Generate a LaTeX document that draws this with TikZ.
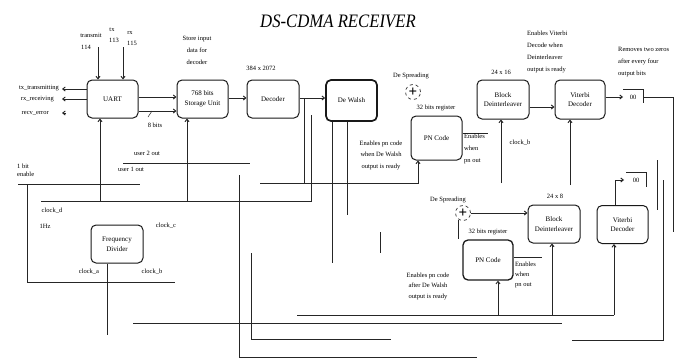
\documentclass[tikz,border=0pt]{standalone}
\usepackage{graphicx}
\usepackage{fontspec}
\setmainfont{Liberation Serif}
\usetikzlibrary{arrows.meta}
\begin{document}
\begin{tikzpicture}[x=1pt,y=-1pt,
  box/.style={draw=black!90,line width=1pt,rounded corners=5pt,minimum width=51pt,minimum height=38pt,align=center,font=\fontsize{7}{9.5}\selectfont,inner sep=1pt},
  lbl/.style={font=\fontsize{6.5}{7.5}\selectfont,inner sep=0pt,align=center},
  lbll/.style={font=\fontsize{6.5}{12}\selectfont,inner sep=0pt,align=left,anchor=north west},
  wire/.style={draw=black!85,line width=0.95pt},
  arr/.style={wire,-{Straight Barb[length=2.5pt,width=4pt]}},
  sum/.style={circle,draw=black!80,dashed,line width=0.7pt,minimum size=15pt,inner sep=0pt,font=\bfseries\fontsize{15}{15}\selectfont}
]
\useasboundingbox (0,0) rectangle (693,359);
\fill[white] (0,0) rectangle (693,359);

% title
\node[font=\fontsize{19}{20}\selectfont\itshape] (title) at (338,21) {\scalebox{0.88}[1]{DS-CDMA RECEIVER}};

% blocks
\node[box] (uart) at (112.5,99) {UART};
\node[box] (store) at (202.5,99) {768 bits\\Storage Unit};
\node[box,minimum width=52pt] (dec) at (273,99) {Decoder};
\node[box,line width=1.7pt,minimum height=41pt] (walsh) at (351.5,100.5) {De Walsh};
\node[box,minimum height=44pt] (pn1) at (436.5,138) {PN Code};
\node[box,minimum width=52pt,minimum height=39pt] (bd1) at (503,99.5) {Block\\Deinterleaver};
\node[box,minimum width=50pt,minimum height=39pt] (vit1) at (580,99.5) {Viterbi\\Decoder};
\node[box,minimum width=52pt] (freq) at (117,244) {Frequency\\Divider};
\node[box,minimum width=50pt,minimum height=40pt,line width=1.3pt] (pn2) at (488,260) {PN Code};
\node[box,minimum width=52pt] (bd2) at (554,224) {Block\\Deinterleaver};
\node[box] (vit2) at (622.5,224.5) {Viterbi\\Decoder};
\node[sum] (add1) at (413,92) {+};
\node[sum] (add2) at (463,213) {+};

% UART side signals
\coordinate (c1) at (62,89); \draw[arr] (uart.west|-c1) -- (c1);
\coordinate (c2) at (62,99); \draw[arr] (uart.west|-c2) -- (c2);
\coordinate (c3a) at (66,113); \coordinate (c3) at (62,113); \draw[arr] (c3a) -- (c3);
\node[lbl,anchor=east] (l1) at (59,88) {tx\_transmitting};
\node[lbl,anchor=east] (l2) at (54,99) {rx\_receiving};
\node[lbl,anchor=east] (l3) at (49,113) {recv\_error};

\coordinate (t1) at (98,47); \draw[arr] (t1) -- (t1|-uart.north);
\coordinate (t2) at (123,47); \draw[arr] (t2) -- (t2|-uart.north);
\node[lbl] (l4) at (91,35) {transmit};
\node[lbl] (l5) at (86,47) {114};
\node[lbl] (l6) at (112,30) {tx};
\node[lbl] (l7) at (114,40) {113};
\node[lbl] (l8) at (130,33) {rx};
\node[lbl] (l9) at (132,43) {115};

% data path
\coordinate (u1) at (0,97); \draw[arr] (uart.east|-u1) -- (store.west|-u1);
\coordinate (u2) at (0,111); \draw[arr] (uart.east|-u2) -- (store.west|-u2);
\coordinate (sl1) at (148,117); \coordinate (sl2) at (152,111); \draw[wire,line width=0.5pt] (sl1) -- (sl2);
\node[lbl] (l10) at (155,125) {8 bits};
\node[lbl,font=\fontsize{6.5}{12}\selectfont] (l11) at (197,50) {Store input\\data for\\decoder};

\coordinate (s1) at (0,98);
\draw[arr] (store.east|-s1) -- (dec.west|-s1);
\draw[arr] (dec.east|-s1) -- (walsh.west|-s1);
\node[lbl] (l12) at (261,68) {384 x 2072};

\coordinate (j1) at (304,98); \coordinate (j2) at (304,183); \draw[wire] (j1) -- (j2);
\coordinate (h1) at (260,183); \coordinate (p1b) at (418,183);
\draw[arr] (h1) -- (p1b) -- (p1b|-pn1.south);
\node[lbl,font=\fontsize{6.5}{11.5}\selectfont] (l13) at (381,155) {Enables pn code\\when De Walsh\\output is ready};

% clock bus
\coordinate (k1) at (311,115); \coordinate (k2) at (311,201); \coordinate (k3) at (41,201);
\draw[wire] (k1) -- (k2) -- (k3);
\coordinate (ku) at (100,201); \draw[arr] (ku) -- (ku|-uart.south);
\coordinate (ks) at (187,201); \draw[arr] (ks) -- (ks|-store.south);

% user outputs
\coordinate (uo1) at (123,163); \coordinate (uo2) at (250,163); \draw[wire] (uo1) -- (uo2);
\node[lbl] (l14) at (147,153) {user 2 out};
\node[lbl] (l15) at (131,169) {user 1 out};

\coordinate (e1) at (18,184); \coordinate (e2) at (140,184); \draw[wire] (e1) -- (e2);
\coordinate (e3) at (27,184); \coordinate (e4) at (27,282); \coordinate (e5) at (175,282);
\draw[wire] (e3) -- (e4) -- (e5);
\node[lbl,anchor=west] (l16) at (17,166) {1 bit};
\node[lbl,anchor=west] (l17) at (17,174) {enable};
\node[lbl] (l18) at (52,211) {clock\_d};
\node[lbl] (l19) at (45,226) {1Hz};
\node[lbl] (l20) at (166,226) {clock\_c};
\node[lbl] (l21) at (89,272) {clock\_a};
\node[lbl] (l22) at (152,272) {clock\_b};
\coordinate (fb) at (107,335); \draw[wire] (fb|-freq.south) -- (fb);

% long lines
\coordinate (v1) at (239,175); \coordinate (v2) at (239,357); \coordinate (v3) at (477,357);
\draw[wire] (v1) -- (v2) -- (v3);
\coordinate (w1) at (332,263); \draw[wire] (w1|-walsh.south) -- (w1);
\coordinate (w2) at (347,215); \draw[wire] (w2|-walsh.south) -- (w2);
\coordinate (m1) at (380,232); \coordinate (m2) at (380,253); \draw[wire] (m1) -- (m2);
\coordinate (m3) at (251,253); \coordinate (m4) at (251,339); \coordinate (m5) at (391,339);
\draw[wire] (m3) -- (m4) -- (m5);
\coordinate (b1) at (133,323); \coordinate (b2) at (562,323); \draw[wire] (b1) -- (b2);
\coordinate (b3) at (297,315); \coordinate (b4) at (614,315); \draw[wire] (b3) -- (b4);
\coordinate (b5) at (498,315); \draw[arr] (b5) -- (b5|-pn2.south);
\coordinate (b6) at (552,315); \draw[arr] (b6) -- (b6|-bd2.south);
\draw[arr] (b4) -- (b4|-vit2.south);

% upper despreading
\node[lbl] (l23) at (411,76) {De Spreading};
\node[lbl] (l24) at (436,108) {32 bits register};
\coordinate (pe1) at (488,133); \draw[wire] (pn1.east|-pe1) -- (pe1);
\node[lbll,font=\fontsize{6.5}{12}\selectfont] (l25) at (464,134) {Enables\\when\\pn out};
\node[lbl] (l26) at (520,143) {clock\_b};
\node[lbl] (l27) at (501,72) {24 x 16};
\coordinate (q1) at (0,107); \draw[arr] (bd1.east|-q1) -- (vit1.west|-q1);
\coordinate (q2) at (501,183); \draw[arr] (q2) -- (q2|-bd1.south);
\coordinate (q3) at (570,185); \draw[arr] (q3) -- (q3|-vit1.south);
\node[lbll] (l28) at (527,31) {Enables Viterbi\\Decode when\\Deinterleaver\\output is ready};
\node[lbll] (l29) at (618,47) {Removes two zeros\\after every four\\output bits};

% upper zero removal
\coordinate (z1) at (623,97); \draw[arr] (vit1.east|-z1) -- (z1);
\coordinate (za) at (623,89); \coordinate (zb) at (643,89); \coordinate (zc) at (643,103);
\draw[wire] (za) -- (zb) -- (zc);
\node[lbl] (zz1) at (633,97) {00};
\coordinate (zd) at (643,97); \coordinate (ze) at (673,97); \coordinate (zf) at (673,232);
\draw[wire] (zd) -- (ze) -- (zf);
\coordinate (r1) at (657,160); \coordinate (r2) at (657,210); \draw[wire] (r1) -- (r2);
\coordinate (r3) at (663,180); \coordinate (r4) at (663,340); \coordinate (r5) at (572,340);
\draw[wire] (r3) -- (r4) -- (r5);

% lower despreading
\node[lbl] (l30) at (448,200) {De Spreading};
\node[lbl] (l31) at (555,196) {24 x 8};
\node[lbl] (l32) at (488,232) {32 bits register};
\draw[arr] (add2.east) -- (bd2.west|-add2.east);
\coordinate (d1) at (458,220); \draw[wire] (d1) -- (d1|-pn2.north);
\coordinate (pe2) at (542,257); \draw[wire] (pn2.east|-pe2) -- (pe2);
\node[lbll,font=\fontsize{6.5}{10}\selectfont] (l33) at (515,262) {Enables\\when\\pn out};
\node[lbl,font=\fontsize{6.5}{10.5}\selectfont] (l34) at (428,286) {Enables pn code\\after De Walsh\\output is ready};

% lower zero removal
\coordinate (y1) at (615,180); \coordinate (y2) at (624,180);
\draw[wire] (y1|-vit2.north) -- (y1);
\draw[arr] (y1) -- (y2);
\coordinate (ya) at (626,172); \coordinate (yb) at (646,172); \coordinate (yc) at (646,187);
\draw[wire] (ya) -- (yb) -- (yc);
\node[lbl] (zz2) at (636,180) {00};
\end{tikzpicture}
\end{document}
